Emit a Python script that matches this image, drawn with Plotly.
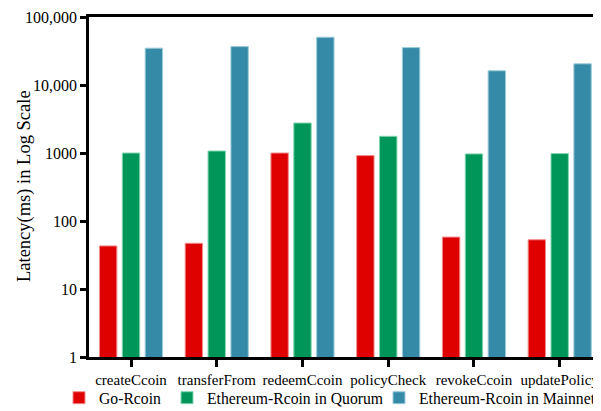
import plotly.graph_objects as go

categories = ["createCcoin", "transferFrom", "redeemCcoin", "policyCheck", "revokeCcoin", "updatePolicy"]
go_rcoin = [43, 47, 1000, 915, 58, 53]
quorum = [1000, 1070, 2760, 1760, 970, 980]
mainnet = [34800, 36700, 50400, 35500, 16200, 20500]

series_names = ["Go-Rcoin", "Ethereum-Rcoin in Quorum", "Ethereum-Rcoin in Mainnet"]
colors = ["#DF0000", "#00965A", "#358BA7"]
edge_colors = ["#F28B8B", "#7FD6B0", "#9BCBDA"]
legend_ids = ["legend", "legend2", "legend3"]

ytick_vals = [1, 10, 100, 1000, 10000, 100000]
ytick_text = ["1", "10", "100", "1000", "10,000", "100,000"]
y_title = "Latency(ms) in Log Scale"

font_family = "Liberation Serif, Times New Roman, serif"
# the page body has an 8px margin, so the figure is sized to fit the window
W, H = 593, 403
ML, MR, MT, MB = 81, 1, 9, 54
PW, PH = W - ML - MR, H - MT - MB

fig = go.Figure()
for name, vals, c, ec, lid in zip(series_names, [go_rcoin, quorum, mainnet], colors, edge_colors, legend_ids):
    fig.add_trace(go.Bar(
        x=list(range(len(categories))), y=vals, name=name, legend=lid,
        marker=dict(color=c, line=dict(color=ec, width=1)),
    ))

legend_common = dict(orientation="h", yanchor="middle",
                     xref="container", yref="container",
                     font=dict(size=15.7, family=font_family), itemwidth=30,
                     bgcolor="rgba(0,0,0,0)")
legend_y = 1 - 390 / H
fig.update_layout(
    width=W, height=H,
    margin=dict(l=ML, r=MR, t=MT, b=MB),
    paper_bgcolor="white", plot_bgcolor="white",
    barmode="group", bargap=0.2, bargroupgap=0.24,
    font=dict(family=font_family, color="black", size=16),
    showlegend=True,
    legend=dict(legend_common, x=51 / W, xanchor="left", y=legend_y),
    legend2=dict(legend_common, x=159 / W, xanchor="left", y=legend_y),
    legend3=dict(legend_common, x=1.0, xanchor="right", y=legend_y),
)
fig.update_xaxes(
    range=[-0.49, 5.47], automargin=False,
    tickmode="array", tickvals=list(range(len(categories))), ticktext=categories,
    ticklabeloverflow="allow",
    showline=True, linecolor="black", linewidth=2.5, mirror=True,
    ticks="outside", ticklen=7, tickwidth=2.5, tickcolor="black",
    tickfont=dict(size=15, family=font_family),
    showgrid=False, zeroline=False,
)
fig.update_yaxes(
    type="log", range=[0, 5], automargin=False,
    tickmode="array", tickvals=ytick_vals, ticktext=ytick_text,
    showline=True, linecolor="black", linewidth=2.5,
    ticks="outside", ticklen=6, tickwidth=2.5, tickcolor="black",
    tickfont=dict(size=16, family=font_family),
    showgrid=False, zeroline=False,
)
fig.add_annotation(
    text=y_title, textangle=-90, showarrow=False,
    xref="paper", yref="paper",
    x=(16 - ML) / PW, y=(MT + PH - 178) / PH,
    xanchor="center", yanchor="middle",
    font=dict(size=18.5, family=font_family, color="black"),
)
fig.add_shape(type="line", xref="paper", yref="paper", x0=1, x1=1, y0=0, y1=1,
              line=dict(color="#888888", width=1))

fig.write_html("out.html")
